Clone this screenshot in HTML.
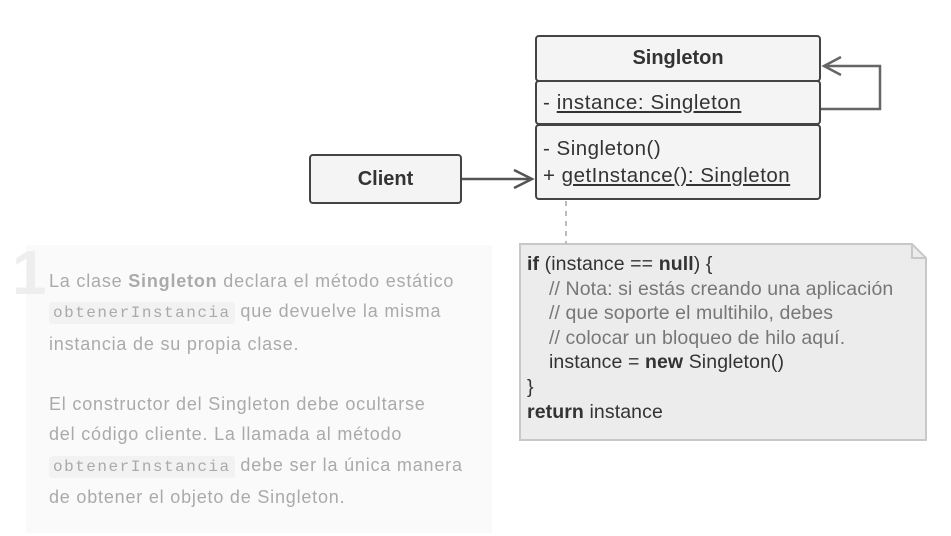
<!DOCTYPE html>
<html><head><meta charset="utf-8"><style>
body{margin:0;width:951px;height:536px;background:#fff;position:relative;overflow:hidden;font-family:"Liberation Sans",sans-serif;}
.abs{position:absolute;}
.box{position:absolute;background:#f4f4f4;border:2px solid #444;border-radius:4px;box-sizing:border-box;color:#333;}
.panel{position:absolute;left:26px;top:245px;width:466px;height:288px;background:#fafafa;}
.txt{position:absolute;left:49px;top:266px;width:445px;color:#aaa;font-size:18px;line-height:30.3px;letter-spacing:0.8px;white-space:nowrap;}
code{font-family:"Liberation Mono",monospace;font-size:16px;letter-spacing:1.5px;background:#f2f2f2;border-radius:3px;padding:2px 4px;color:#aaa;}
.note{position:absolute;left:527px;top:252px;font-size:19.5px;line-height:24.6px;color:#333;white-space:nowrap;letter-spacing:0.1px;}
.c{color:#777;}
.ind{display:inline-block;width:22px;}
</style></head><body>
<div class="panel"></div>
<div class="abs" style="left:12px;top:238px;font-size:62px;font-weight:bold;color:#eee;">1</div>
<div class="txt">La clase <b>Singleton</b> declara el método estático<br><code>obtenerInstancia</code> que devuelve la misma<br>instancia de su propia clase.<br><br>El constructor del Singleton debe ocultarse<br>del código cliente. La llamada al método<br><code>obtenerInstancia</code> debe ser la única manera<br>de obtener el objeto de Singleton.</div>

<svg class="abs" style="left:0;top:0" width="951" height="536">
<polygon points="520,244 912,244 926,258 926,440 520,440" fill="#ececec" stroke="#c8c8c8" stroke-width="2"/>
<polyline points="912,244 912,258 926,258" fill="none" stroke="#c8c8c8" stroke-width="2"/>
<line x1="566" y1="201" x2="566" y2="244" stroke="#bbb" stroke-width="2" stroke-dasharray="5,5"/>
<line x1="461" y1="179" x2="532" y2="179" stroke="#555" stroke-width="2.5"/>
<polyline points="514,170 532,179 514,188" fill="none" stroke="#555" stroke-width="2.5"/>
<polyline points="821,109 880,109 880,66 824,66" fill="none" stroke="#666" stroke-width="2.5"/>
<polyline points="841,57 824,66 841,75" fill="none" stroke="#666" stroke-width="2.5"/>
</svg>

<div class="box" style="left:535px;top:35px;width:286px;height:47px;text-align:center;font-weight:bold;font-size:20px;line-height:43px;">Singleton</div>
<div class="box" style="left:535px;top:80px;width:286px;height:45px;font-size:20.5px;line-height:41px;padding-left:6px;letter-spacing:0.6px;white-space:nowrap;">- <u>instance: Singleton</u></div>
<div class="box" style="left:535px;top:124px;width:286px;height:76px;font-size:20.5px;line-height:27px;padding:9px 0 0 6px;letter-spacing:0.5px;white-space:nowrap;">- Singleton()<br>+ <u>getInstance(): Singleton</u></div>
<div class="box" style="left:309px;top:154px;width:153px;height:50px;text-align:center;font-weight:bold;font-size:20px;line-height:46px;">Client</div>

<div class="note"><b>if</b> (instance == <b>null</b>) {<br><span class="ind"></span><span class="c">// Nota: si estás creando una aplicación</span><br><span class="ind"></span><span class="c">// que soporte el multihilo, debes</span><br><span class="ind"></span><span class="c">// colocar un bloqueo de hilo aquí.</span><br><span class="ind"></span>instance = <b>new</b> Singleton()<br>}<br><b>return</b> instance</div>
</body></html>
